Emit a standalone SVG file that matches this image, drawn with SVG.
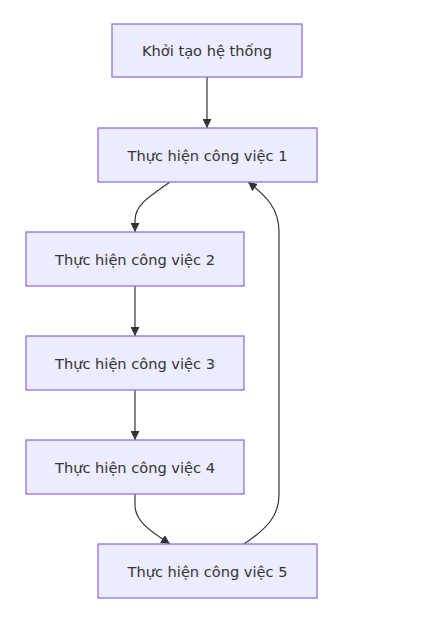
<svg xmlns="http://www.w3.org/2000/svg" width="425" height="617" viewBox="0 0 425 617">
<style>
.node rect{fill:#ECECFF;stroke:#9370DB;stroke-width:1.3}
.node text{font-family:"DejaVu Sans","Liberation Sans",sans-serif;font-size:14.6px;fill:#333;text-anchor:middle;dominant-baseline:central}
.edges path{fill:none;stroke:#333;stroke-width:1.2;marker-end:url(#arrow)}
</style>
<defs>
<marker id="arrow" viewBox="0 0 10 10" refX="10" refY="5" markerWidth="9" markerHeight="9" markerUnits="userSpaceOnUse" orient="auto">
<path d="M0,0 L10,5 L0,10 z" fill="#333"/>
</marker>
</defs>
<rect width="425" height="617" fill="#fff"/>
<g class="edges">
<path d="M207,77 L207,128"/>
<path d="M170,182 C150,196 135,205 135,220 L135,232"/>
<path d="M135,286 L135,336"/>
<path d="M135,390 L135,440"/>
<path d="M135,494 L135,505 C135,522 152,532 170,544"/>
<path d="M244,544 C268,528 279,515 279,495 L279,232 C279,208 266,196 248,182"/>
</g>
<g id="n0" class="node"><rect x="112" y="24" width="190" height="53"/><text x="207" y="50.5">Khởi tạo hệ thống</text></g>
<g id="n1" class="node"><rect x="98" y="128" width="219" height="54"/><text x="207.5" y="155">Thực hiện công việc 1</text></g>
<g id="n2" class="node"><rect x="26" y="232" width="218" height="54"/><text x="135" y="259">Thực hiện công việc 2</text></g>
<g id="n3" class="node"><rect x="26" y="336" width="218" height="54"/><text x="135" y="363">Thực hiện công việc 3</text></g>
<g id="n4" class="node"><rect x="26" y="440" width="218" height="54"/><text x="135" y="467">Thực hiện công việc 4</text></g>
<g id="n5" class="node"><rect x="98" y="544" width="219" height="54"/><text x="207.5" y="571">Thực hiện công việc 5</text></g>
</svg>
